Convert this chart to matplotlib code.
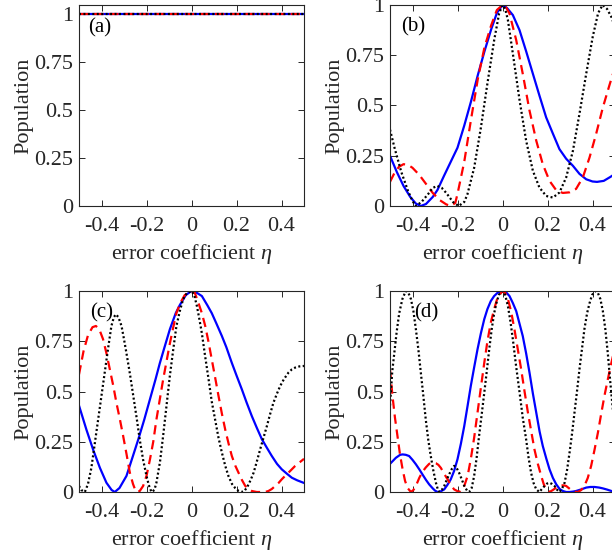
import matplotlib
matplotlib.use("Agg")
import matplotlib.pyplot as plt

plt.rcParams['font.family'] = ['Liberation Serif', 'DejaVu Serif']
plt.rcParams['mathtext.fontset'] = 'custom'
plt.rcParams['mathtext.rm'] = 'Liberation Serif'
plt.rcParams['mathtext.it'] = 'Liberation Serif:italic'

# ---------------- data ----------------
x_ticks = [-0.4, -0.2, 0, 0.2, 0.4]
x_tick_labels = ['-0.4', '-0.2', '0', '0.2', '0.4']
y_ticks = [0, 0.25, 0.5, 0.75, 1]
y_tick_labels = ['0', '0.25', '0.5', '0.75', '1']
panel_labels = ['(a)', '(b)', '(c)', '(d)']

# (a) all populations stay at 1
a_eta = [-0.5, 0.5]
a_blue = [1.0, 1.0]
a_red = [1.0, 1.0]
a_black = [1.0, 1.0]

# (b)
b_blue_eta = [-0.5, -0.47, -0.44, -0.41, -0.385, -0.363, -0.34, -0.31, -0.289, -0.26, -0.23, -0.2,
              -0.17, -0.14, -0.11, -0.08, -0.05, -0.025, 0,
              0.02, 0.046, 0.0756, 0.105, 0.135, 0.164, 0.194, 0.224, 0.253, 0.283, 0.313, 0.342,
              0.372, 0.40, 0.42, 0.45, 0.48, 0.5]
b_blue = [0.25, 0.17, 0.10, 0.045, 0.012, 0.0, 0.01, 0.045, 0.08, 0.15, 0.22, 0.29,
          0.40, 0.52, 0.65, 0.77, 0.88, 0.96, 1.0,
          0.985, 0.95, 0.875, 0.77, 0.658, 0.55, 0.441, 0.36, 0.283, 0.235, 0.2, 0.16,
          0.133, 0.122, 0.12, 0.125, 0.145, 0.16]

b_red_eta = [-0.5, -0.48, -0.46, -0.44, -0.42, -0.4, -0.37, -0.34, -0.31, -0.28, -0.25, -0.23,
             -0.21, -0.2, -0.17, -0.14, -0.11, -0.08, -0.05, -0.025, 0,
             0.015, 0.031, 0.061, 0.09, 0.12, 0.15, 0.179, 0.209, 0.239, 0.268, 0.298, 0.327,
             0.357, 0.387, 0.416, 0.446, 0.475, 0.5]
b_red = [0.12, 0.165, 0.195, 0.208, 0.205, 0.19, 0.155, 0.11, 0.065, 0.03, 0.008, 0.0,
         0.015, 0.06, 0.22, 0.43, 0.63, 0.79, 0.9, 0.975, 1.0,
         0.99, 0.958, 0.825, 0.658, 0.475, 0.325, 0.208, 0.125, 0.078, 0.065, 0.068, 0.085,
         0.142, 0.242, 0.358, 0.49, 0.6, 0.69]

b_black_eta = [-0.5, -0.48, -0.45, -0.42, -0.4, -0.385, -0.36, -0.33, -0.31, -0.29, -0.27, -0.25,
               -0.22, -0.195, -0.17, -0.156, -0.126, -0.096, -0.067, -0.037, -0.015, 0,
               0.012, 0.024, 0.046, 0.076, 0.105, 0.135, 0.164, 0.194, 0.224, 0.253, 0.283,
               0.313, 0.342, 0.372, 0.401, 0.425, 0.445, 0.465, 0.484, 0.5]
b_black = [0.38, 0.29, 0.17, 0.075, 0.025, 0.0, 0.02, 0.06, 0.09, 0.1, 0.09, 0.065,
           0.02, 0.0, 0.02, 0.058, 0.19, 0.39, 0.61, 0.825, 0.958, 1.0,
           0.98, 0.925, 0.758, 0.525, 0.325, 0.175, 0.092, 0.05, 0.042, 0.067, 0.142,
           0.275, 0.458, 0.658, 0.842, 0.96, 1.0, 0.98, 0.94, 0.89]

# (c)
c_blue_eta = [-0.5, -0.467, -0.437, -0.407, -0.378, -0.355, -0.341, -0.32, -0.289, -0.26, -0.237,
              -0.21, -0.185, -0.16, -0.141, -0.12, -0.096, -0.07, -0.052, -0.025, 0,
              0.025, 0.046, 0.07, 0.09, 0.11, 0.135, 0.155, 0.179, 0.2, 0.224, 0.245, 0.268,
              0.29, 0.313, 0.335, 0.357, 0.38, 0.401, 0.425, 0.446, 0.47, 0.5]
c_blue = [0.43, 0.31, 0.21, 0.12, 0.046, 0.01, 0.0, 0.02, 0.08, 0.18, 0.26,
          0.36, 0.46, 0.56, 0.64, 0.72, 0.81, 0.89, 0.93, 0.98, 1.0,
          0.99, 0.975, 0.93, 0.89, 0.84, 0.776, 0.72, 0.643, 0.58, 0.51, 0.445, 0.378,
          0.32, 0.262, 0.22, 0.179, 0.14, 0.113, 0.09, 0.071, 0.058, 0.045]

c_red_eta = [-0.5, -0.48, -0.46, -0.44, -0.425, -0.41, -0.393, -0.378, -0.363, -0.348, -0.333,
             -0.318, -0.304, -0.289, -0.274, -0.26, -0.25, -0.24, -0.23, -0.215, -0.2, -0.185,
             -0.17, -0.156, -0.141, -0.126, -0.111, -0.096, -0.081, -0.067, -0.05, -0.03, 0,
             0.015, 0.031, 0.046, 0.061, 0.075, 0.09, 0.105, 0.12, 0.135, 0.15, 0.165, 0.179,
             0.195, 0.209, 0.224, 0.239, 0.254, 0.268, 0.29, 0.313, 0.33, 0.342, 0.357, 0.372,
             0.387, 0.401, 0.416, 0.431, 0.446, 0.461, 0.48, 0.5]
c_red = [0.585, 0.7, 0.78, 0.82, 0.826, 0.81, 0.76, 0.69, 0.61, 0.53, 0.44,
         0.36, 0.28, 0.19, 0.096, 0.04, 0.01, 0.0, 0.005, 0.03, 0.08, 0.16,
         0.25, 0.36, 0.46, 0.56, 0.65, 0.74, 0.82, 0.89, 0.94, 0.98, 1.0,
         0.99, 0.94, 0.89, 0.826, 0.75, 0.66, 0.57, 0.478, 0.39, 0.31, 0.24, 0.18,
         0.13, 0.096, 0.06, 0.03, 0.015, 0.005, 0.0, 0.0, 0.001, 0.005, 0.015, 0.03,
         0.045, 0.063, 0.08, 0.096, 0.113, 0.13, 0.147, 0.165]

c_black_eta = [-0.5, -0.49, -0.474, -0.46, -0.445, -0.43, -0.415, -0.4, -0.385, -0.37, -0.356,
               -0.345, -0.336, -0.325, -0.311, -0.3, -0.289, -0.274, -0.259, -0.244, -0.23,
               -0.215, -0.2, -0.19, -0.178, -0.165, -0.156, -0.14, -0.126, -0.111, -0.096,
               -0.081, -0.067, -0.052, -0.037, -0.02, 0,
               0.012, 0.024, 0.035, 0.046, 0.06, 0.076, 0.09, 0.105, 0.12, 0.135, 0.15, 0.164,
               0.18, 0.194, 0.208, 0.222, 0.236, 0.25, 0.263, 0.276, 0.29, 0.305, 0.32, 0.335,
               0.35, 0.364, 0.38, 0.394, 0.41, 0.431, 0.446, 0.461, 0.48, 0.5]
c_black = [0.03, 0.01, 0.0, 0.04, 0.12, 0.24, 0.36, 0.48, 0.6, 0.72, 0.826,
           0.87, 0.884, 0.87, 0.826, 0.76, 0.69, 0.59, 0.48, 0.37, 0.26,
           0.16, 0.08, 0.035, 0.0, 0.01, 0.046, 0.15, 0.28, 0.43, 0.58,
           0.71, 0.826, 0.9, 0.96, 0.99, 1.0,
           0.98, 0.925, 0.86, 0.79, 0.68, 0.56, 0.45, 0.36, 0.27, 0.196, 0.13, 0.08,
           0.04, 0.02, 0.006, 0.0, 0.006, 0.03, 0.06, 0.096, 0.15, 0.212, 0.27, 0.328,
           0.39, 0.444, 0.49, 0.527, 0.56, 0.594, 0.61, 0.619, 0.625, 0.627]

# (d)
d_blue_eta = [-0.5, -0.474, -0.455, -0.444, -0.43, -0.415, -0.4, -0.385, -0.37, -0.356, -0.34,
              -0.326, -0.31, -0.3, -0.289, -0.275, -0.259, -0.245, -0.23, -0.215, -0.2, -0.185,
              -0.17, -0.155, -0.141, -0.126, -0.111, -0.096, -0.081, -0.067, -0.052, -0.037,
              -0.02, 0,
              0.015, 0.031, 0.046, 0.061, 0.075, 0.09, 0.105, 0.12, 0.135, 0.15, 0.165, 0.179,
              0.195, 0.209, 0.224, 0.239, 0.254, 0.268, 0.283, 0.298, 0.313, 0.327, 0.35, 0.372,
              0.39, 0.409, 0.43, 0.446, 0.465, 0.484, 0.5]
d_blue = [0.14, 0.17, 0.185, 0.187, 0.185, 0.179, 0.16, 0.138, 0.113, 0.088, 0.06,
          0.038, 0.018, 0.007, 0.0, 0.003, 0.013, 0.035, 0.063, 0.105, 0.163, 0.24,
          0.328, 0.43, 0.527, 0.62, 0.71, 0.79, 0.86, 0.91, 0.95, 0.975,
          0.993, 1.0,
          0.995, 0.975, 0.94, 0.9, 0.84, 0.776, 0.69, 0.594, 0.49, 0.395, 0.3, 0.229,
          0.165, 0.113, 0.07, 0.038, 0.015, 0.005, 0.0, 0.0, 0.002, 0.005, 0.013, 0.022,
          0.025, 0.025, 0.022, 0.018, 0.012, 0.005, 0.002]

d_red_eta = [-0.5, -0.489, -0.478, -0.467, -0.456, -0.444, -0.433, -0.422, -0.407, -0.396,
             -0.385, -0.37, -0.356, -0.341, -0.326, -0.31, -0.296, -0.285, -0.274, -0.259,
             -0.244, -0.23, -0.215, -0.193, -0.18, -0.17, -0.155, -0.141, -0.126, -0.111,
             -0.096, -0.081, -0.067, -0.052, -0.037, -0.022, 0,
             0.012, 0.024, 0.038, 0.053, 0.068, 0.083, 0.098, 0.113, 0.128, 0.142, 0.157,
             0.172, 0.183, 0.194, 0.209, 0.224, 0.239, 0.25, 0.261, 0.272, 0.283, 0.294,
             0.305, 0.32, 0.335, 0.35, 0.364, 0.379, 0.394, 0.409, 0.424, 0.438, 0.453,
             0.468, 0.484, 0.5]
d_red = [0.61, 0.478, 0.37, 0.28, 0.19, 0.113, 0.055, 0.02, 0.0, 0.01,
         0.03, 0.07, 0.1, 0.122, 0.14, 0.146, 0.143, 0.135, 0.12, 0.09,
         0.063, 0.035, 0.013, 0.0, 0.01, 0.03, 0.08, 0.163, 0.27, 0.395,
         0.52, 0.643, 0.75, 0.843, 0.91, 0.967, 1.0,
         0.99, 0.96, 0.9, 0.81, 0.71, 0.61, 0.5, 0.395, 0.3, 0.212, 0.14,
         0.08, 0.04, 0.013, 0.0, 0.01, 0.022, 0.03, 0.033, 0.033, 0.03, 0.02,
         0.01, 0.002, 0.0, 0.01, 0.03, 0.07, 0.13, 0.21, 0.295, 0.385, 0.478,
         0.56, 0.643, 0.72]

d_black_eta = [-0.5, -0.49, -0.481, -0.47, -0.459, -0.445, -0.43, -0.418, -0.407, -0.396,
               -0.385, -0.374, -0.363, -0.352, -0.341, -0.33, -0.319, -0.308, -0.296, -0.288,
               -0.281, -0.27, -0.259, -0.248, -0.237, -0.225, -0.215, -0.204, -0.193, -0.18,
               -0.17, -0.158, -0.148, -0.137, -0.126, -0.115, -0.104, -0.092, -0.081, -0.07,
               -0.059, -0.048, -0.037, -0.025, -0.015, 0,
               0.012, 0.024, 0.035, 0.046, 0.06, 0.076, 0.09, 0.105, 0.116, 0.127, 0.138,
               0.15, 0.164, 0.175, 0.187, 0.198, 0.209, 0.22, 0.231, 0.242, 0.253, 0.264,
               0.276, 0.287, 0.298, 0.309, 0.32, 0.331, 0.342, 0.353, 0.364, 0.376, 0.387,
               0.398, 0.413, 0.424, 0.435, 0.446, 0.457, 0.468, 0.478, 0.488, 0.5]
d_black = [0.43, 0.6, 0.69, 0.8, 0.89, 0.96, 1.0, 0.99, 0.96, 0.9,
           0.81, 0.71, 0.594, 0.48, 0.36, 0.26, 0.18, 0.11, 0.046, 0.015,
           0.0, 0.01, 0.03, 0.06, 0.088, 0.115, 0.13, 0.12, 0.096, 0.06,
           0.03, 0.008, 0.0, 0.02, 0.08, 0.17, 0.28, 0.39, 0.494, 0.6,
           0.71, 0.81, 0.89, 0.95, 0.983, 1.0,
           0.98, 0.925, 0.85, 0.76, 0.63, 0.494, 0.37, 0.262, 0.17, 0.096, 0.045,
           0.013, 0.0, 0.015, 0.03, 0.042, 0.046, 0.04, 0.03, 0.012, 0.0, 0.015,
           0.046, 0.11, 0.196, 0.29, 0.395, 0.5, 0.61, 0.71, 0.81, 0.89, 0.94,
           0.98, 1.0, 0.99, 0.96, 0.9, 0.81, 0.69, 0.56, 0.44, 0.3]

panels = [
    (a_eta, a_blue, a_eta, a_red, a_eta, a_black),
    (b_blue_eta, b_blue, b_red_eta, b_red, b_black_eta, b_black),
    (c_blue_eta, c_blue, c_red_eta, c_red, c_black_eta, c_black),
    (d_blue_eta, d_blue, d_red_eta, d_red, d_black_eta, d_black),
]
y_tops = [1.047, 1.0, 1.0, 1.0]
label_pos = [(0.04, 0.885), (0.048, 0.89), (0.048, 0.89), (0.107, 0.89)]

# ---------------- figure ----------------
W, H = 612, 556
fig = plt.figure(figsize=(W / 100, H / 100), dpi=100)
lefts = [79, 390, 79, 390]
tops = [5, 5, 291, 291]
aw, ah = 225, 201

axis_col = (0.15, 0.15, 0.15)
for i, (bx, by, rx, ry, kx, ky) in enumerate(panels):
    ax = fig.add_axes([lefts[i] / W, 1 - (tops[i] + ah) / H, aw / W, ah / H])
    ax.plot(bx, by, color=(0, 0, 1), lw=1.6, ls='-')
    ax.plot(rx, ry, color=(1, 0, 0), lw=1.6, ls=(0, (4.2, 2.6)))
    ax.plot(kx, ky, color='k', lw=1.6, ls=(0, (0.9, 1.1)))
    ax.set_xlim(-0.5, 0.5)
    ax.set_ylim(0, y_tops[i])
    ax.set_xticks(x_ticks)
    ax.set_xticklabels(x_tick_labels)
    ax.set_yticks(y_ticks)
    ax.set_yticklabels(y_tick_labels)
    ax.tick_params(direction='in', top=True, right=True, length=4, width=0.7,
                   labelsize=16, colors=axis_col)
    ax.tick_params(axis='x', pad=8)
    ax.tick_params(axis='y', pad=4)
    for sp in ax.spines.values():
        sp.set_color(axis_col)
        sp.set_linewidth(0.8)
    ax.set_xlabel(r'error coefficient $\eta$', fontsize=16, color=axis_col, labelpad=4)
    ax.set_ylabel('Population', fontsize=16, color=axis_col, labelpad=1)
    ax.text(label_pos[i][0], label_pos[i][1], panel_labels[i], transform=ax.transAxes,
            fontsize=15, color='k', va='center', ha='left')

fig.savefig('out.png', dpi=100)
